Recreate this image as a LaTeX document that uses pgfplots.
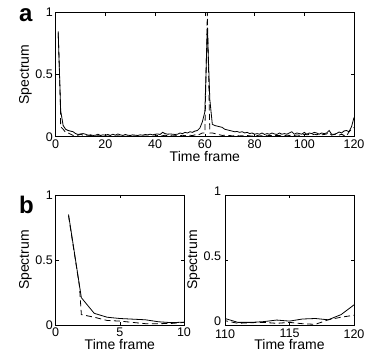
\documentclass[border=0pt]{standalone}
\usepackage{fontspec}
\setmainfont{Liberation Sans}
\usepackage{pgfplots}
\usepackage{pgfplotstable}
\pgfplotsset{compat=1.18}
\pgfplotstableread{
x y
1 0.85
2 0.21
3 0.09
4 0.06
5 0.05
6 0.045
7 0.04
8 0.025
9 0.018
10 0.022
11 0.025
12 0.02
13 0.012
14 0.015
15 0.01
16 0.012
17 0.02
18 0.01
19 0.015
20 0.012
21 0.018
22 0.01
23 0.02
24 0.012
25 0.022
26 0.015
27 0.01
28 0.018
29 0.012
30 0.01
31 0.015
32 0.012
33 0.01
34 0.015
35 0.012
36 0.018
37 0.015
38 0.02
39 0.015
40 0.02
41 0.022
42 0.018
43 0.035
44 0.025
45 0.02
46 0.022
47 0.02
48 0.018
49 0.02
50 0.03
51 0.025
52 0.035
53 0.03
54 0.04
55 0.035
56 0.045
57 0.05
58 0.07
59 0.12
60 0.2
61 0.88
62 0.3
63 0.1
64 0.09
65 0.085
66 0.08
67 0.075
68 0.06
69 0.055
70 0.05
71 0.045
72 0.04
73 0.042
74 0.035
75 0.04
76 0.03
77 0.035
78 0.025
79 0.03
80 0.02
81 0.025
82 0.02
83 0.03
84 0.018
85 0.025
86 0.02
87 0.03
88 0.022
89 0.018
90 0.03
91 0.02
92 0.025
93 0.02
94 0.03
95 0.04
96 0.02
97 0.03
98 0.025
99 0.02
100 0.035
101 0.02
102 0.03
103 0.025
104 0.035
105 0.03
106 0.02
107 0.03
108 0.025
109 0.03
110 0.05
111 0.02
112 0.02
113 0.026
114 0.038
115 0.03
116 0.046
117 0.05
118 0.04
119 0.08
120 0.155
}\solid
\pgfplotstableread{
x y
1 0.84
1.85 0.3
2 0.08
3 0.06
4 0.035
5 0.03
6 0.02
7 0.01
8 0.01
9 0.012
10 0.02
11 0.012
12 0.008
13 0.005
14 0.01
15 0.006
16 0.004
17 0.008
18 0.005
19 0.01
20 0.006
21 0.004
22 0.008
23 0.005
24 0.003
25 0.007
26 0.004
27 0.006
28 0.003
29 0.005
30 0.004
31 0.006
32 0.003
33 0.005
34 0.007
35 0.004
36 0.006
37 0.005
38 0.008
39 0.004
40 0.006
41 0.01
42 0.006
43 0.008
44 0.012
45 0.007
46 0.01
47 0.006
48 0.008
49 0.01
50 0.007
51 0.012
52 0.008
53 0.01
54 0.012
55 0.009
56 0.015
57 0.012
58 0.02
59 0.03
60 0.03
61 1.0
62 0.03
63 0.03
64 0.025
65 0.02
66 0.015
67 0.01
68 0.012
69 0.008
70 0.01
71 0.006
72 0.008
73 0.01
74 0.006
75 0.008
76 0.005
77 0.01
78 0.007
79 0.005
80 0.008
81 0.01
82 0.006
83 0.008
84 0.012
85 0.007
86 0.01
87 0.008
88 0.012
89 0.009
90 0.01
91 0.013
92 0.008
93 0.012
94 0.01
95 0.015
96 0.01
97 0.014
98 0.012
99 0.016
100 0.02
101 0.015
102 0.018
103 0.014
104 0.02
105 0.016
106 0.02
107 0.015
108 0.018
109 0.022
110 0.033
111 0.013
112 0.018
113 0.02
114 0.013
115 0.02
116 0.01
117 0.005
118 0.04
119 0.06
120 0.075
}\dashed
\newcommand{\tickfont}{\fontsize{12.5pt}{14pt}\selectfont}
\newcommand{\labfont}{\fontsize{14pt}{16pt}\selectfont}
\newcommand{\panfont}{\fontsize{24pt}{26pt}\selectfont\bfseries}
\pgfplotsset{
  msty/.style={
    scale only axis,
    ymin=0, ymax=1,
    ytick={0,0.5,1},
    yticklabels={0,0.5,1},
    tick align=inside,
    major tick length=3pt,
    axis line style={line width=0.7pt},
    tick style={line width=0.5pt, black},
    tick label style={font=\tickfont, inner sep=1pt},
    xlabel={Time frame},
    ylabel={Spectrum},
    xlabel style={font=\labfont, yshift=1.8pt},
    ylabel style={font=\labfont, yshift=-0.8pt},
    xticklabel style={yshift=-1.7pt},
    yticklabel style={xshift=-1.7pt},
    /pgf/number format/assume math mode=true,
    clip=true,
  },
  sol/.style={black, line width=0.8pt},
  das/.style={black, line width=0.8pt, dash pattern=on 6pt off 3.5pt},
}
\begin{document}
\begin{tikzpicture}
\path (0pt,0pt) rectangle (375pt,356pt);
\begin{axis}[msty, at={(55.7pt,219.3pt)}, anchor=south west,
  width=298.3pt, height=124pt,
  xmin=0, xmax=120, xtick={0,20,...,120}]
\addplot[sol] table[x=x,y=y] {\solid};
\addplot[das] table[x=x,y=y] {\dashed};
\end{axis}
\begin{axis}[msty, at={(55.7pt,31pt)}, anchor=south west,
  width=128.3pt, height=130pt,
  xmin=0, xmax=10, xtick={0,5,10}]
\addplot[sol] table[x=x,y=y] {\solid};
\addplot[das] table[x=x,y=y] {\dashed};
\end{axis}
\begin{axis}[msty, at={(225pt,31pt)}, anchor=south west,
  width=129pt, height=130pt,
  xmin=110, xmax=120, xtick={110,115,120},
  xticklabel style={yshift=-1.5pt},
  xlabel style={yshift=1.5pt},
  yticklabel style={xshift=-1pt, yshift=3.5pt}]
\addplot[sol] table[x=x,y=y] {\solid};
\addplot[das] table[x=x,y=y] {\dashed};
\end{axis}
\node[anchor=west, font=\panfont, inner sep=0pt] at (19pt,341pt) {a};
\node[anchor=west, font=\panfont, inner sep=0pt] at (19pt,151pt) {b};
\end{tikzpicture}
\end{document}
